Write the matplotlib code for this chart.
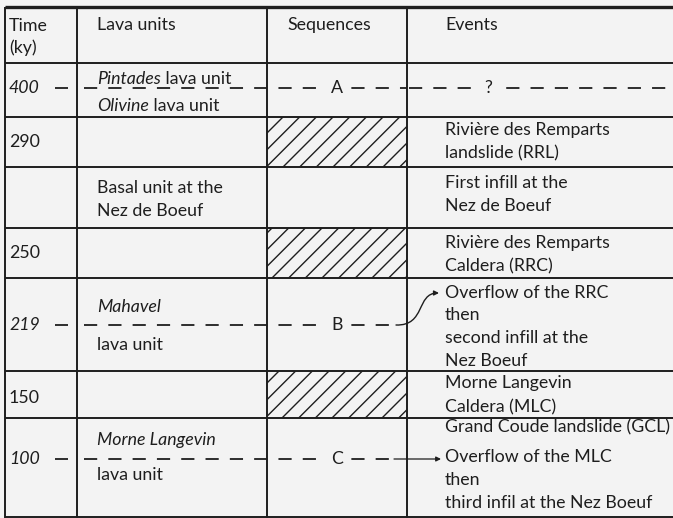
import matplotlib
matplotlib.use('Agg')
import matplotlib.pyplot as plt
from matplotlib.patches import Rectangle, FancyArrowPatch
from matplotlib.path import Path

plt.rcParams['font.family'] = ['Lato', 'DejaVu Sans']
plt.rcParams['lines.scale_dashes'] = False
plt.rcParams['hatch.linewidth'] = 1.0

BG = '#f3f3f3'
INK = '#1e1e1e'

# table content
headers = ['Time\n(ky)', 'Lava units', 'Sequences', 'Events']
times = ['400', '290', '', '250', '219', '150', '100']
time_italic = [True, False, False, False, True, False, True]
lava_units = [
    [('Pintades', ' lava unit'), ('Olivine', ' lava unit')],
    [],
    [('', 'Basal unit at the'), ('', 'Nez de Boeuf')],
    [],
    [('Mahavel', ''), ('', 'lava unit')],
    [],
    [('Morne Langevin', ''), ('', 'lava unit')],
]
sequences = ['A', '', '', '', 'B', '', 'C']
hatched = [False, True, False, True, False, True, False]
events = [
    [],
    ['Rivière des Remparts', 'landslide (RRL)'],
    ['First infill at the', 'Nez de Boeuf'],
    ['Rivière des Remparts', 'Caldera (RRC)'],
    ['Overflow of the RRC', 'then', 'second infill at the', 'Nez Boeuf'],
    ['Morne Langevin', 'Caldera (MLC)'],
    ['Grand Coude landslide (GCL)', 'Overflow of the MLC', 'then',
     'third infil at the Nez Boeuf'],
]
event_marks = ['?', '', '', '', '', '', '']

# layout in pixels
W, H = 673, 518
col_x = [5, 77, 267, 407]
row_y = [63, 117, 167, 228, 278, 371, 418, 517]
time_y = [88, 142, 0, 253, 325, 398, 459]
lava_y = [[79, 106], [], [188, 211], [], [307, 345], [], [440, 475]]
event_y = [[], [130, 153], [183, 206], [243, 266], [293, 315, 338, 361],
           [383, 407], [427, 457, 480, 503]]

fig = plt.figure(figsize=(W / 100, H / 100), dpi=100)
fig.patch.set_facecolor(BG)
ax = fig.add_axes([0, 0, 1, 1])
ax.set_xlim(0, W)
ax.set_ylim(H, 0)
ax.axis('off')
ax.set_facecolor(BG)

fs = 12.8
renderer = fig.canvas.get_renderer()

# grid
ax.plot([col_x[0], W], [7, 7], color=INK, lw=2.4, solid_capstyle='butt')
for y in row_y:
    ax.plot([col_x[0], W], [y, y], color=INK, lw=1.4, solid_capstyle='butt')
for x in col_x:
    ax.plot([x, x], [7, H], color=INK, lw=1.4, solid_capstyle='butt')

# headers
ax.text(9, 37, headers[0], fontsize=fs, color=INK, va='center', ha='left',
        linespacing=1.35)
ax.text(97, 25, headers[1], fontsize=fs, color=INK, va='center')
ax.text(287, 25, headers[2], fontsize=fs, color=INK, va='center')
ax.text(445, 25, headers[3], fontsize=fs, color=INK, va='center')

for i in range(len(times)):
    top, bot = row_y[i], row_y[i + 1]
    if hatched[i]:
        ax.add_patch(Rectangle((col_x[2], top), col_x[3] - col_x[2], bot - top,
                               fill=False, hatch='//', edgecolor=INK, lw=0))
    if times[i]:
        ax.text(9, time_y[i], times[i], fontsize=fs, color=INK, va='center',
                style='italic' if time_italic[i] else 'normal')
    # lava units, italic name followed by upright part
    for (it, rest), y in zip(lava_units[i], lava_y[i]):
        x = 97
        if it:
            t = ax.text(x, y, it, fontsize=fs, color=INK, va='center', style='italic')
            bb = t.get_window_extent(renderer=renderer)
            x = ax.transData.inverted().transform((bb.x1, 0))[0]
        if rest:
            ax.text(x, y, rest, fontsize=fs, color=INK, va='center')
    for line, y in zip(events[i], event_y[i]):
        ax.text(445, y, line, fontsize=fs, color=INK, va='center')

    if sequences[i]:
        y = time_y[i]
        ax.plot([55, 68], [y, y], color=INK, lw=1.3, solid_capstyle='butt')
        xend = col_x[3] if event_marks[i] else 396
        ax.plot([84, xend], [y, y], color=INK, lw=1.3, dashes=(9.5, 8),
                dash_capstyle='butt')
        ax.text((col_x[2] + col_x[3]) / 2, y, sequences[i], fontsize=fs, color=INK,
                ha='center', va='center',
                bbox=dict(boxstyle='square,pad=0.35', fc=BG, ec='none'))
        if event_marks[i]:
            ax.plot([409, W], [y, y], color=INK, lw=1.3, dashes=(9.5, 8),
                    dash_capstyle='butt')
            ax.text(488.5, y, event_marks[i], fontsize=fs, color=INK,
                    ha='center', va='center',
                    bbox=dict(boxstyle='square,pad=0.45', fc=BG, ec='none'))

# arrows from sequence boundaries to events
yb = time_y[4]
curve = Path([(396, yb), (426, yb + 1), (416, event_y[4][0]), (439, event_y[4][0])],
             [Path.MOVETO, Path.CURVE4, Path.CURVE4, Path.CURVE4])
ax.add_patch(FancyArrowPatch(path=curve, arrowstyle='-|>', mutation_scale=7,
                             color=INK, lw=1.0))
yc = time_y[6]
ax.add_patch(FancyArrowPatch((394, yc), (441, yc), arrowstyle='-|>', mutation_scale=7,
                             color=INK, lw=0.9, shrinkA=0, shrinkB=0))

fig.savefig('out.png', dpi=100, facecolor=BG)
